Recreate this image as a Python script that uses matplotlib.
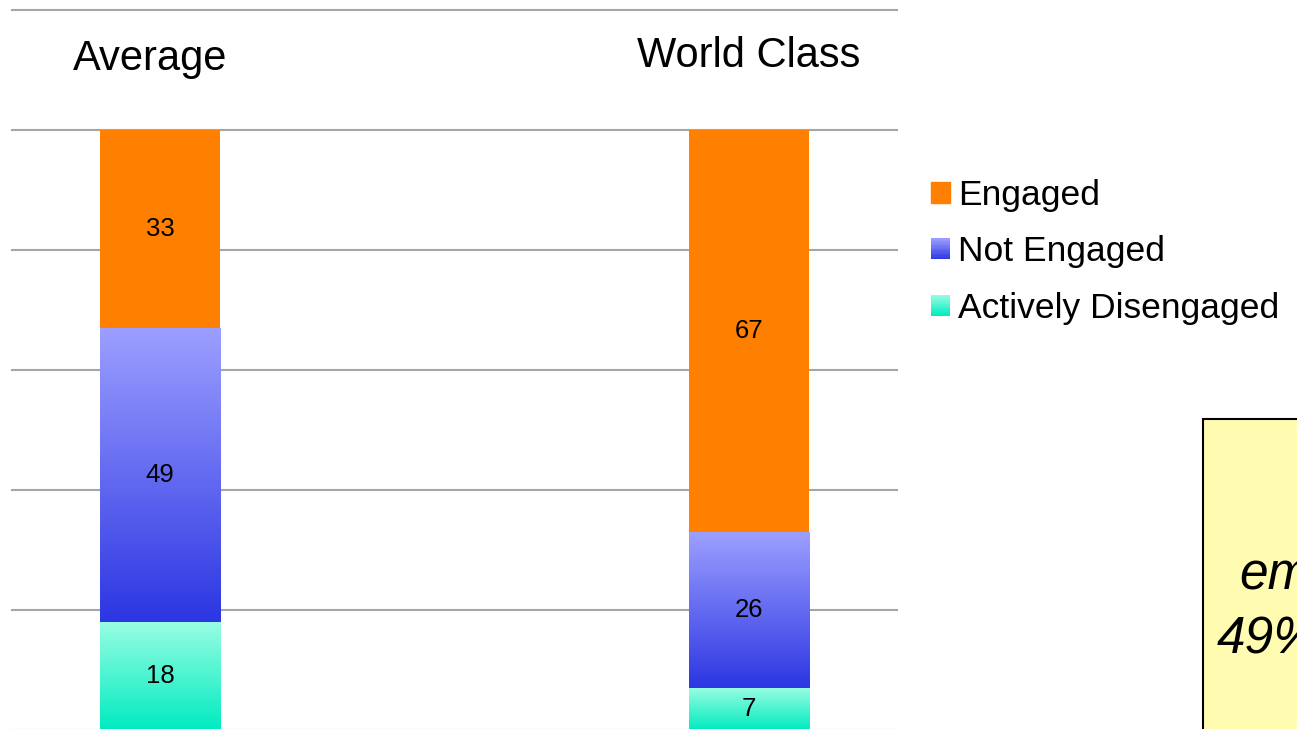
import numpy as np
import matplotlib.pyplot as plt
from matplotlib.colors import LinearSegmentedColormap
from matplotlib.patches import Patch, Rectangle
from matplotlib.legend_handler import HandlerBase

plt.rcParams['font.family'] = ['Liberation Sans', 'DejaVu Sans']

# data
groups = ['Average', 'World Class']
actively_disengaged = [18, 7]
not_engaged = [49, 26]
engaged = [33, 67]
series_names = ['Engaged', 'Not Engaged', 'Actively Disengaged']

W, H = 1297, 729
fig = plt.figure(figsize=(W / 100, H / 100), dpi=100)
ax = fig.add_axes([12 / W, (729 - 730) / H, 885 / W, 720 / H])
ax.axis('off')

# grid lines
for yv in range(0, 121, 20):
    ax.axhline(yv, color='#a6a6a6', lw=1.5, zorder=0, clip_on=False)

orange = '#ff7f00'
blue_cm = LinearSegmentedColormap.from_list('b', ['#2c36e2', '#9c9fff'])
teal_cm = LinearSegmentedColormap.from_list('t', ['#00ebc0', '#98fde2'])

x = np.arange(len(groups))
bw = 0.204
grad = np.linspace(0, 1, 256).reshape(-1, 1)


def grad_bars(bottom, vals, cmap):
    bars = ax.bar(x, vals, bw, bottom=bottom, color='none', lw=0, zorder=2)
    for b in bars:
        x0, y0 = b.get_x(), b.get_y()
        im = ax.imshow(grad, cmap=cmap, origin='lower', aspect='auto',
                       extent=[x0, x0 + b.get_width(), y0, y0 + b.get_height()],
                       zorder=2)
        im.set_clip_path(b)
    return bars


b1 = grad_bars(np.zeros(2), actively_disengaged, teal_cm)
b2 = grad_bars(np.array(actively_disengaged), not_engaged, blue_cm)
bot3 = np.array(actively_disengaged) + np.array(not_engaged)
b3 = ax.bar(x, engaged, bw, bottom=bot3, color=orange, lw=0, zorder=2)
ax.set_xlim(-0.251, 1.251)
ax.set_ylim(0, 120)

for bars in (b1, b2, b3):
    for b in bars:
        ax.text(b.get_x() + b.get_width() / 2, b.get_y() + b.get_height() / 2,
                f'{int(b.get_height())}', ha='center', va='center',
                fontsize=18.5, zorder=3)

# category names above bars
ax.text(x[0] - 0.017, 111.8, groups[0], ha='center', va='center', fontsize=30)
ax.text(x[1], 112.3, groups[1], ha='center', va='center', fontsize=30)


class GradHandler(HandlerBase):
    def __init__(self, cmap):
        super().__init__()
        self.cmap = cmap

    def create_artists(self, legend, orig_handle, xdescent, ydescent,
                       width, height, fontsize, trans):
        n = 16
        out = []
        for i in range(n):
            out.append(Rectangle((-xdescent, -ydescent + height * i / n),
                                 width, height / n * 1.05,
                                 facecolor=self.cmap((i + 0.5) / n), lw=0,
                                 transform=trans))
        return out


h_eng = Patch(color=orange)
h_not = Patch(color='#5a62f0')
h_act = Patch(color='#4cf5d2')
fig.legend([h_eng, h_not, h_act], series_names, loc='upper left',
           bbox_to_anchor=(931 / W, 1 - 179 / H), frameon=False,
           fontsize=25.5, handlelength=0.54, handleheight=0.54,
           handletextpad=0.23, labelspacing=0.66, borderaxespad=0,
           borderpad=0,
           handler_map={h_not: GradHandler(blue_cm), h_act: GradHandler(teal_cm)})

# yellow note box (cropped at the figure edge, as in the source)
fig.patches.append(Rectangle((1203 / W, -0.01), 0.2, 1 - 419 / H + 0.01,
                             transform=fig.transFigure, facecolor='#fffbb0',
                             edgecolor='black', lw=1.5))
fig.text(1239 / W, 1 - 589 / H, 'em', fontsize=37, style='italic',
         va='baseline', ha='left')
fig.text(1217 / W, 1 - 653 / H, '49%', fontsize=37, style='italic',
         va='baseline', ha='left')

fig.savefig('out.png', dpi=100)
